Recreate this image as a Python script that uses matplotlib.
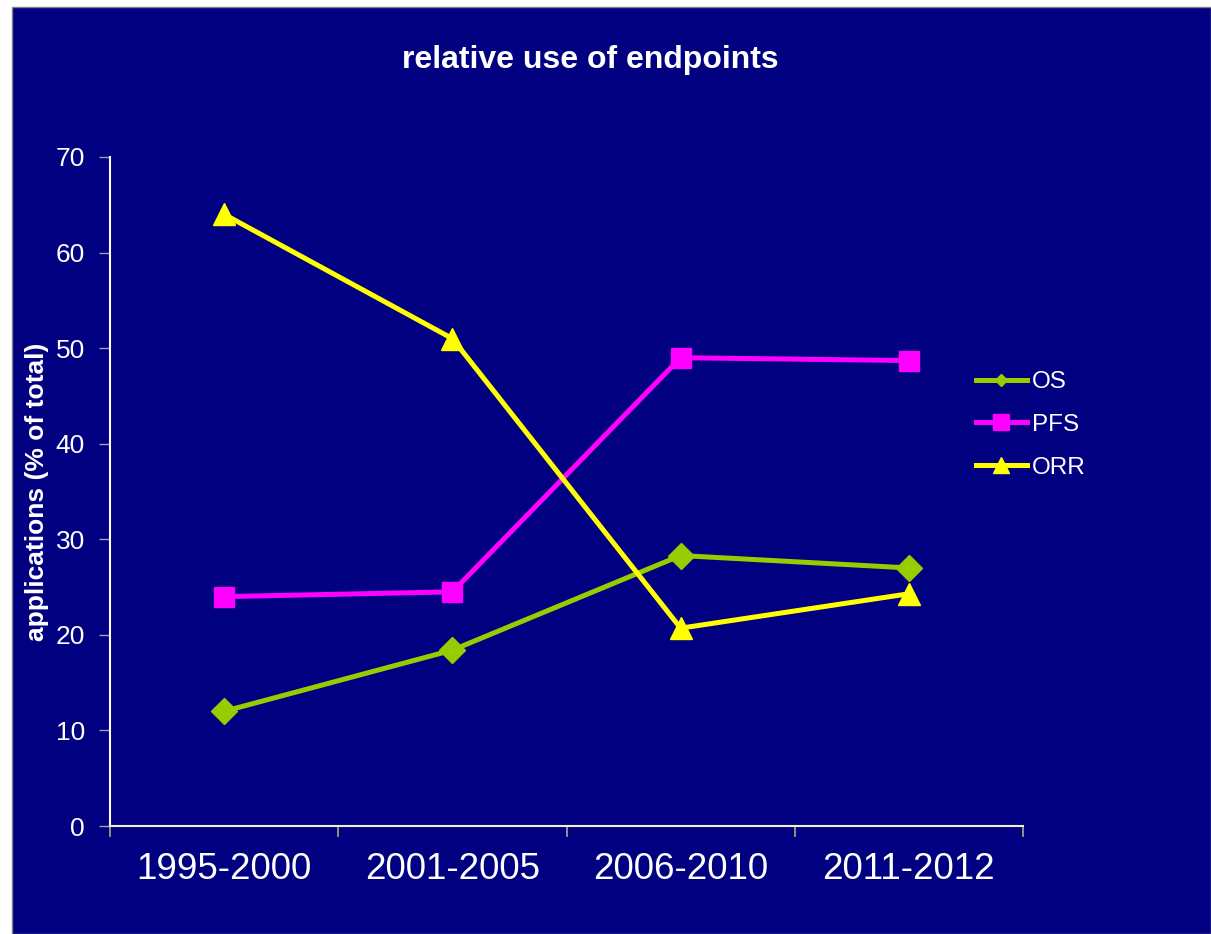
import matplotlib.pyplot as plt
from matplotlib.lines import Line2D
from matplotlib.patches import Rectangle

plt.rcParams['font.family'] = ['Liberation Sans', 'DejaVu Sans']

periods = ['1995-2000', '2001-2005', '2006-2010', '2011-2012']
os_vals = [12.0, 18.4, 28.3, 27.0]
pfs_vals = [24.0, 24.5, 49.0, 48.7]
orr_vals = [64.0, 51.0, 20.7, 24.3]

navy = '#000080'
c_os = '#99cc00'
c_pfs = '#ff00ff'
c_orr = '#ffff00'

fig = plt.figure(figsize=(12.11, 9.34), dpi=100, facecolor='white')
# slide background panel, kept behind the axes
fig.patches.append(Rectangle((12 / 1211, 0), 1 - 12 / 1211, 1 - 7 / 934,
                             transform=fig.transFigure, facecolor=navy,
                             edgecolor='#808080', linewidth=1, zorder=-5))

ax = fig.add_axes([110 / 1211, 1 - 826 / 934, 913 / 1211, (826 - 157) / 934])
ax.patch.set_alpha(0)

x = range(len(periods))
ax.plot(x, os_vals, color=c_os, lw=3.6, marker='D', ms=13, mec=c_os, zorder=3)
ax.plot(x, pfs_vals, color=c_pfs, lw=3.6, marker='s', ms=14, mec=c_pfs, zorder=3)
ax.plot(x, orr_vals, color=c_orr, lw=3.6, marker='^', ms=16, mec=c_orr, zorder=4)

ax.set_xlim(-0.5, 3.5)
ax.set_ylim(0, 70)
ax.set_yticks(range(0, 71, 10))
ax.tick_params(axis='y', colors='white', labelsize=19, length=8,
               width=1, pad=10, color='#a0a0c0')
ax.set_xticks(x)
ax.set_xticklabels(periods, fontsize=26.5, color='white')
ax.tick_params(axis='x', length=0, pad=19)
# category separators below the axis
for b in [-0.5, 0.5, 1.5, 2.5, 3.5]:
    ax.plot([b, b], [0, -1.05], color='#b0a880', lw=1.2, clip_on=False, zorder=2)

for side in ['top', 'right']:
    ax.spines[side].set_visible(False)
ax.spines['left'].set_color('white')
ax.spines['bottom'].set_color('#f0f0d8')
ax.spines['left'].set_linewidth(1.5)
ax.spines['bottom'].set_linewidth(1.5)

ax.set_ylabel('applications (% of total)', color='white', fontsize=19,
              fontweight='bold')
ax.yaxis.set_label_coords(-0.067, 0.5)

fig.text(590 / 1211, 1 - 60 / 934, 'relative use of endpoints', color='white',
         fontsize=23, fontweight='bold', ha='center', va='center')

handles = [
    Line2D([], [], color=c_os, lw=3.6, marker='D', ms=6, mec=c_os),
    Line2D([], [], color=c_pfs, lw=3.6, marker='s', ms=11, mec=c_pfs),
    Line2D([], [], color=c_orr, lw=3.6, marker='^', ms=12, mec=c_orr),
]
leg = fig.legend(handles, ['OS', 'PFS', 'ORR'], loc='center left',
                 bbox_to_anchor=(954 / 1211, 1 - 425 / 934), frameon=False,
                 fontsize=17.5, labelcolor='white', handlelength=2.1,
                 handletextpad=0.2, labelspacing=0.85)

fig.savefig('out.png', dpi=100, facecolor='white')
